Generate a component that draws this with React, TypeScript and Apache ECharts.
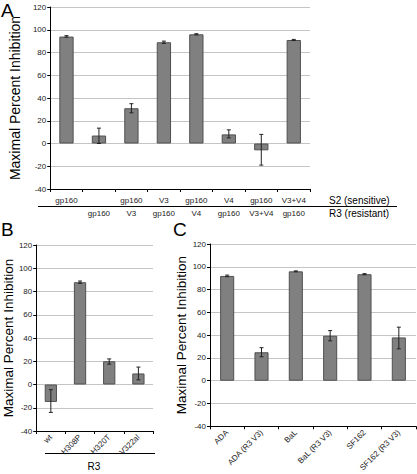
import React, { useEffect, useRef } from "react";
import * as echarts from "echarts";

// Panel A
const catA1 = ["gp160", "", "gp160", "V3", "gp160", "V4", "gp160", "V3+V4"];
const catA2 = ["", "gp160", "V3", "gp160", "V4", "gp160", "V3+V4", "gp160"];
const valA = [94, 7, 31, 89, 96, 8, -6, 91];
const lowA = [93.5, 0, 27, 88, 95.5, 5, -19, 90.5];
const highA = [94.8, 13.5, 35, 90, 96.5, 12, 8, 91.5];

// Panel B
const catB = ["wt", "H308P", "H320T", "V322al"];
const valB = [-15, 88, 20, 9.5];
const lowB = [-24, 87, 17.5, 4];
const highB = [-4.5, 89, 22, 15];

// Panel C
const catC = ["ADA", "ADA (R3 V3)", "BaL", "BaL (R3 V3)", "SF162", "SF162 (R3 V3)"];
const valC = [92, 25, 96, 39.5, 93.5, 38];
const lowC = [91.3, 21, 95.6, 35, 93, 28];
const highC = [92.7, 29, 96.4, 44, 94, 47];

const yTicks = { min: -40, max: 120, interval: 20 };
const yTitle = "Maximal Percent Inhibition";

const FONT = "Liberation Sans";

function errSeries(low: number[], high: number[], axisIdx: number) {
  return {
    type: "custom",
    xAxisIndex: axisIdx,
    yAxisIndex: axisIdx,
    data: low.map((l, i) => [i, l, high[i]]),
    encode: { x: 0, y: [1, 2] },
    z: 5,
    renderItem: (params: any, api: any) => {
      const x = api.value(0);
      const lo = api.coord([x, api.value(1)]);
      const hi = api.coord([x, api.value(2)]);
      const w = 2;
      const st = { stroke: "#222", lineWidth: 1 };
      return {
        type: "group",
        children: [
          { type: "line", shape: { x1: lo[0], y1: lo[1], x2: hi[0], y2: hi[1] }, style: st },
          { type: "line", shape: { x1: lo[0] - w, y1: lo[1], x2: lo[0] + w, y2: lo[1] }, style: st },
          { type: "line", shape: { x1: hi[0] - w, y1: hi[1], x2: hi[0] + w, y2: hi[1] }, style: st },
        ],
      };
    },
  };
}

function yAxis(gridIndex: number, nameGap: number, fontSize: number) {
  return {
    type: "value",
    gridIndex,
    ...yTicks,
    name: yTitle,
    nameLocation: "middle",
    nameGap,
    nameTextStyle: { fontSize, color: "#000", fontFamily: FONT },
    axisLine: { show: true, lineStyle: { color: "#000", width: 1 } },
    axisTick: { show: true, length: 3, lineStyle: { color: "#000" } },
    axisLabel: { fontSize: 8, color: "#222", margin: 4, fontFamily: FONT },
    splitLine: { show: true, lineStyle: { color: "#c4c4c4", width: 1 } },
  };
}

function catAxis(gridIndex: number, labels: string[], rotate: number, extra: any = {}) {
  return {
    type: "category",
    gridIndex,
    data: labels.map((_, i) => String(i)),
    axisLine: { show: true, onZero: false, lineStyle: { color: "#000", width: 1 } },
    axisTick: { show: true, length: 3, interval: 0, lineStyle: { color: "#000" } },
    axisLabel: {
      interval: 0,
      rotate,
      fontSize: 8,
      color: "#222",
      margin: rotate ? 5 : 7,
      fontFamily: FONT,
      formatter: (_v: string, idx: number) => labels[idx],
    },
    splitLine: { show: false },
    ...extra,
  };
}

const barStyle = { color: "#808080", borderColor: "#505050", borderWidth: 1 };

export default function App() {
  const ref = useRef<HTMLDivElement>(null);
  useEffect(() => {
    if (!ref.current) return;
    const chart = echarts.init(ref.current, undefined, { renderer: "svg" });
    chart.setOption({
      animation: false,
      backgroundColor: "#fff",
      textStyle: { fontFamily: FONT },
      grid: [
        { left: 38, top: 7, width: 272, height: 182 },
        { left: 36, top: 245, width: 117, height: 186 },
        { left: 210, top: 244, width: 206, height: 187 },
      ],
      xAxis: [
        catAxis(0, catA1, 0),
        catAxis(1, catB, 45),
        catAxis(2, catC, 45),
        catAxis(0, catA2, 0, {
          position: "bottom",
          offset: 13,
          axisLine: { show: false },
          axisTick: { show: false },
        }),
      ],
      yAxis: [yAxis(0, 18, 14), yAxis(1, 19, 13.5), yAxis(2, 21, 13.5)],
      series: [
        { type: "bar", xAxisIndex: 0, yAxisIndex: 0, data: valA, barWidth: "44%", itemStyle: barStyle },
        errSeries(lowA, highA, 0),
        { type: "bar", xAxisIndex: 1, yAxisIndex: 1, data: valB, barWidth: "42%", itemStyle: barStyle },
        errSeries(lowB, highB, 1),
        { type: "bar", xAxisIndex: 2, yAxisIndex: 2, data: valC, barWidth: "41%", itemStyle: barStyle },
        errSeries(lowC, highC, 2),
      ],
      graphic: [
        { type: "text", left: 1, top: 1, style: { text: "A", fontSize: 19, fill: "#000", fontFamily: FONT } },
        { type: "text", left: 1, top: 220, style: { text: "B", fontSize: 19, fill: "#000", fontFamily: FONT } },
        { type: "text", left: 173, top: 220, style: { text: "C", fontSize: 19, fill: "#000", fontFamily: FONT } },
        { type: "line", shape: { x1: 38, y1: 206.5, x2: 397, y2: 206.5 }, style: { stroke: "#000", lineWidth: 1 } },
        { type: "text", x: 329, y: 200, style: { text: "S2 (sensitive)", fontSize: 10, fill: "#000", fontFamily: FONT, verticalAlign: "middle" } },
        { type: "text", x: 329, y: 213.5, style: { text: "R3 (resistant)", fontSize: 10, fill: "#000", fontFamily: FONT, verticalAlign: "middle" } },
        { type: "line", shape: { x1: 45, y1: 453.5, x2: 155, y2: 453.5 }, style: { stroke: "#000", lineWidth: 1 } },
        { type: "text", x: 94, y: 466, style: { text: "R3", fontSize: 10, fill: "#000", fontFamily: FONT, align: "center", verticalAlign: "middle" } },
      ],
    });
    return () => chart.dispose();
  }, []);
  return (
    <div
      ref={ref}
      style={{ position: "fixed", left: 0, top: 0, width: 417, height: 474, background: "#fff" }}
    />
  );
}
